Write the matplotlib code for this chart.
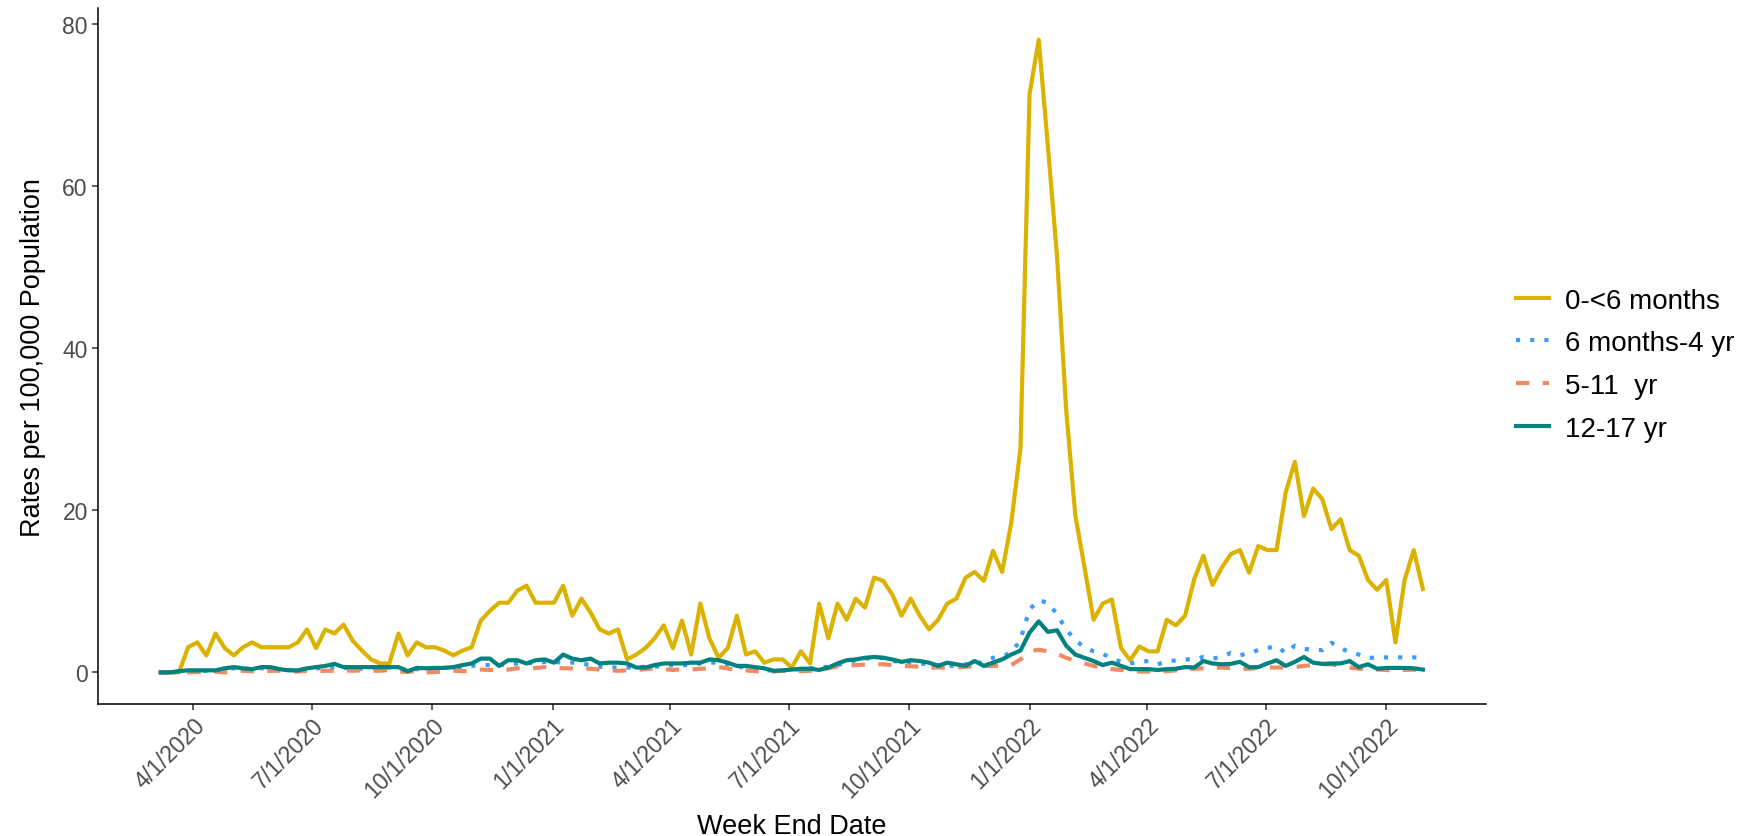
import matplotlib
matplotlib.use("Agg")
import matplotlib.pyplot as plt
import numpy as np
import pandas as pd

plt.rcParams["font.family"] = ["Liberation Sans", "DejaVu Sans"]

# ── Données hebdomadaires (taux pour 100 000) ─────────────────────────────────
FIRST_WEEK = "2020-03-07"
LAST_WEEK = "2022-10-29"

rate_0_6m = [
    0, 0, 0, 3.1, 3.7, 2.1, 4.8, 3.0, 2.1, 3.1, 3.7, 3.1, 3.1, 3.1, 3.1, 3.7,
    5.3, 3.0, 5.3, 4.8, 5.9, 3.9, 2.7, 1.6, 1.1, 1.1, 4.8, 2.1, 3.7, 3.1, 3.1,
    2.7, 2.1, 2.7, 3.1, 6.4, 7.6, 8.6, 8.6, 10.1, 10.7, 8.6, 8.6, 8.6, 10.7,
    7.0, 9.1, 7.4, 5.3, 4.8, 5.3, 1.6, 2.2, 3.0, 4.2, 5.8, 3.0, 6.4, 2.2, 8.5,
    4.2, 1.8, 3.0, 7.0, 2.2, 2.6, 1.2, 1.6, 1.6, 0.6, 2.6, 1.1, 8.5, 4.2, 8.5,
    6.5, 9.1, 8.0, 11.7, 11.3, 9.6, 7.0, 9.1, 7.0, 5.3, 6.5, 8.5, 9.1, 11.7,
    12.4, 11.3, 15.0, 12.4, 18.5, 27.6, 71.4, 78.1, 65.0, 51.4, 32.4, 19.4,
    13.0, 6.5, 8.5, 9.0, 3.0, 1.5, 3.2, 2.6, 2.6, 6.5, 5.8, 7.0, 11.5, 14.4,
    10.8, 12.9, 14.6, 15.1, 12.3, 15.6, 15.1, 15.1, 22.2, 26.0, 19.3, 22.7,
    21.4, 17.7, 18.9, 15.1, 14.4, 11.4, 10.2, 11.4, 3.7, 11.4, 15.1, 10.3,
]

rate_6m_4y = [
    0, 0, 0.1, 0.2, 0.2, 0.2, 0.25, 0.4, 0.5, 0.45, 0.4, 0.5, 0.55, 0.35, 0.3,
    0.3, 0.4, 0.5, 0.55, 0.6, 0.55, 0.5, 0.45, 0.5, 0.55, 0.6, 0.55, 0.3, 0.4,
    0.45, 0.5, 0.55, 0.6, 0.7, 0.8, 0.9, 0.9, 0.9, 1.0, 1.1, 1.2, 1.1, 1.3,
    1.3, 1.2, 1.2, 1.1, 0.9, 0.7, 0.6, 0.6, 0.6, 0.6, 0.7, 0.7, 0.8, 0.9, 0.9,
    0.9, 1.1, 1.2, 1.2, 1.0, 0.7, 0.6, 0.4, 0.3, 0.2, 0.2, 0.3, 0.4, 0.5, 0.6,
    0.7, 0.9, 1.2, 1.5, 1.7, 1.8, 1.8, 1.4, 1.3, 1.2, 1.1, 1.0, 0.9, 0.8, 0.8,
    1.0, 1.1, 1.3, 1.8, 2.0, 2.4, 4.0, 7.8, 8.9, 8.6, 7.2, 5.3, 4.0, 3.1, 2.6,
    2.3, 1.7, 1.3, 1.1, 1.3, 1.4, 1.0, 1.3, 1.5, 1.6, 1.6, 1.9, 1.7, 1.9, 2.4,
    2.1, 2.4, 2.75, 3.0, 3.25, 2.4, 3.3, 2.9, 2.8, 2.75, 3.66, 3.0, 2.5, 2.2,
    1.8, 1.8, 1.85, 1.85, 1.85, 1.85, 1.8,
]

rate_5_11y = [
    0, 0, 0, 0, 0.05, 0.1, 0.1, 0, 0.1, 0.2, 0.15, 0.1, 0.2, 0.2, 0.15, 0.1,
    0.2, 0.15, 0.2, 0.2, 0.25, 0.2, 0.25, 0.2, 0.2, 0.3, 0.1, 0.05, 0.2, 0.0,
    0.05, 0.1, 0.2, 0.15, 0.2, 0.35, 0.3, 0.25, 0.35, 0.5, 0.45, 0.55, 0.65,
    0.6, 0.5, 0.5, 0.5, 0.45, 0.35, 0.25, 0.2, 0.25, 0.3, 0.4, 0.5, 0.4, 0.3,
    0.4, 0.35, 0.45, 0.5, 0.65, 0.5, 0.25, 0.25, 0.15, 0.1, 0.1, 0.2, 0.2,
    0.15, 0.2, 0.3, 0.5, 0.75, 0.85, 0.9, 0.95, 1.0, 1.0, 0.9, 0.8, 0.75, 0.7,
    0.6, 0.6, 0.6, 0.6, 0.7, 0.75, 0.8, 0.8, 0.85, 0.9, 1.6, 2.6, 2.8, 2.6,
    2.3, 1.8, 1.4, 1.1, 0.8, 0.6, 0.4, 0.3, 0.15, 0.1, 0.1, 0.1, 0.15, 0.25,
    0.4, 0.45, 0.5, 0.55, 0.6, 0.5, 0.4, 0.45, 0.55, 0.6, 0.6, 0.6, 0.65, 0.8,
    0.9, 1.0, 1.0, 0.8, 0.6, 0.45, 0.4, 0.35, 0.3, 0.2, 0.3, 0.35, 0.2,
]

rate_12_17y = [
    0, 0, 0.15, 0.25, 0.25, 0.25, 0.25, 0.5, 0.65, 0.5, 0.4, 0.65, 0.65, 0.4,
    0.25, 0.25, 0.5, 0.65, 0.8, 1.05, 0.65, 0.65, 0.65, 0.65, 0.65, 0.65, 0.65,
    0.15, 0.55, 0.5, 0.55, 0.55, 0.65, 0.9, 1.1, 1.7, 1.7, 0.8, 1.5, 1.5, 1.1,
    1.5, 1.6, 1.2, 2.2, 1.7, 1.5, 1.7, 1.1, 1.2, 1.2, 1.1, 0.6, 0.6, 0.9, 1.1,
    1.1, 1.1, 1.2, 1.2, 1.6, 1.5, 1.2, 0.8, 0.8, 0.65, 0.5, 0.2, 0.25, 0.35,
    0.45, 0.45, 0.3, 0.6, 1.1, 1.5, 1.6, 1.8, 1.9, 1.8, 1.6, 1.3, 1.5, 1.4,
    1.2, 0.8, 1.2, 1.0, 0.8, 1.4, 0.8, 1.2, 1.6, 2.2, 2.7, 4.9, 6.3, 5.0, 5.2,
    3.3, 2.2, 1.8, 1.4, 0.9, 1.2, 0.8, 0.4, 0.4, 0.4, 0.3, 0.4, 0.45, 0.65,
    0.6, 1.4, 1.1, 1.0, 1.05, 1.3, 0.65, 0.65, 1.1, 1.5, 0.8, 1.3, 1.9, 1.2,
    1.05, 1.1, 1.1, 1.4, 0.65, 1.0, 0.45, 0.55, 0.55, 0.55, 0.5, 0.35,
]

LABELS = ["0-<6 months", "6 months-4 yr", "5-11  yr", "12-17 yr"]
TICK_DATES = ["2020-04-01", "2020-07-01", "2020-10-01", "2021-01-01",
              "2021-04-01", "2021-07-01", "2021-10-01", "2022-01-01",
              "2022-04-01", "2022-07-01", "2022-10-01"]

# ── Style ─────────────────────────────────────────────────────────────────────
YELLOW = "#DBB200"
BLUE = "#3C9BF5"
ORANGE = "#EF8A62"
TEAL = "#00827E"
TICK_COLOR = "#4D4D4D"
LW = 3.0

weeks = pd.date_range(FIRST_WEEK, LAST_WEEK, freq="7D")

fig = plt.figure(figsize=(17.39, 8.37), dpi=100)
ax = fig.add_axes([0.0561, 0.1577, 0.8545 - 0.0561, 0.989 - 0.1577])

series = [
    (rate_0_6m, YELLOW, "-"),
    (rate_6m_4y, BLUE, (0, (1.0, 2.4))),
    (rate_5_11y, ORANGE, (0, (3.2, 3.2))),
    (rate_12_17y, TEAL, "-"),
]
for (vals, color, ls), label in zip(series, LABELS):
    ax.plot(weeks, vals, color=color, linestyle=ls, linewidth=LW,
            label=label, solid_joinstyle="round", dash_capstyle="butt")

# marges à 5 % comme ggplot
span = weeks[-1] - weeks[0]
ax.set_xlim(weeks[0] - span * 0.05, weeks[-1] + span * 0.05)
ymax = max(rate_0_6m)
ax.set_ylim(-0.05 * ymax, ymax * 1.05)

ticks = pd.to_datetime(TICK_DATES)
ax.set_xticks(ticks)
ax.set_xticklabels([f"{d.month}/{d.day}/{d.year}" for d in ticks],
                   rotation=45, ha="right", va="top", rotation_mode="anchor")
ax.set_yticks([0, 20, 40, 60, 80])

for side in ["top", "right"]:
    ax.spines[side].set_visible(False)
for side in ["left", "bottom"]:
    ax.spines[side].set_color("black")
    ax.spines[side].set_linewidth(1.1)
ax.tick_params(axis="both", colors="#333333", labelcolor=TICK_COLOR,
               labelsize=16.5, length=4, width=1.1, pad=3)

fig.text(0.4555, 0.0036, "Week End Date", ha="center", va="baseline",
         fontsize=19.5, color="black")
fig.text(0.019, 0.573, "Rates per 100,000 Population", rotation=90,
         ha="center", va="center", fontsize=19.5, color="black")

ax.legend(loc="center left", bbox_to_anchor=(0.8718, 0.5633),
          bbox_transform=fig.transFigure, frameon=False, fontsize=20,
          handlelength=1.2, handletextpad=0.55, labelspacing=0.6,
          borderpad=0, borderaxespad=0)

fig.savefig("out.png", dpi=100, facecolor="white")
